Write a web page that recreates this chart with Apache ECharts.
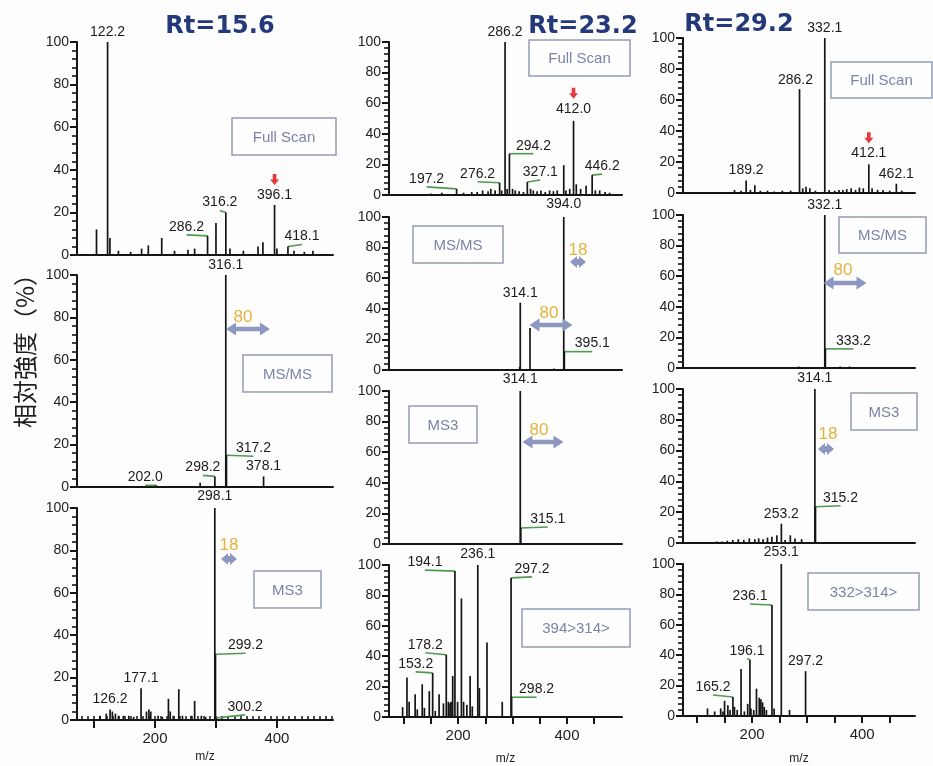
<!DOCTYPE html>
<html>
<head>
<meta charset="utf-8">
<script src="https://cdn.jsdelivr.net/npm/echarts@6/dist/echarts.min.js"></script>
<style>
  html, body { margin: 0; padding: 0; background: #fdfdfd; }
  #chart { width: 933px; height: 766px; }
</style>
</head>
<body>
<div id="chart"></div>
<script>
// ---------- spectra: [m/z, relative intensity (%)] ----------
// Rt = 15.6
const rt156Full = [[104,12],[122.2,100],[126,8],[140,2],[160,1.5],[178,3],[189,4.5],[211,8],[232,2],[254,2.5],[265,3],[286.2,9],[300,15],[316.2,20],[323,3],[345,2],[369,4],[377,6],[396.1,23.5],[400,3],[418.1,4],[428,2],[445,1.5],[459,2]];
const rt156FullLabels = [122.2, 286.2, 316.2, 396.1, 418.1];
const rt156MS2 = [[202.0,0.8],[274,2],[298.2,5],[316.1,100],[317.2,15],[378.1,5]];
const rt156MS2Labels = [316.1, 202.0, 298.2, 317.2, 378.1];
const rt156MS3 = [[110,2],[120,3],[126.2,5],[130,4],[135,3],[140,2],[148,2],[157,2],[165,1.5],[177.1,15],[186,4],[190,5],[193,4],[205,2],[212,1.5],[222,10],[225,4],[230,2],[239,14.5],[245,2],[259,2],[265,9],[276,2],[283,1.5],[298.1,100],[299.2,31],[300.2,1]];
const rt156MS3Labels = [298.1, 299.2, 300.2, 177.1, 126.2];

// Rt = 23.2
const rt232Full = [[150,1],[170,1.5],[197.2,4],[210,1.5],[225,2],[235,2],[245,3],[255,2.5],[260,4],[268,3],[276.2,8],[280,3],[286.2,100],[290,4],[294.2,27],[300,4],[305,3],[312,2.5],[320,2],[327.1,8.5],[333,4],[338,3],[345,2.5],[352,3],[360,2],[368,3],[375,2.5],[382,3],[394,19.5],[398,3],[405,4],[412.0,48.5],[417,7],[425,4],[435,6],[446.2,13],[452,3],[460,3],[470,2],[478,1.5]];
const rt232FullLabels = [286.2, 197.2, 276.2, 294.2, 327.1, 412.0, 446.2];
const rt232MS2 = [[313,2],[314.1,44],[332,27.5],[376,1],[394.0,100],[395.1,12]];
const rt232MS2Labels = [394.0, 314.1, 395.1];
const rt232MS3 = [[314.1,100],[315.1,10.5]];
const rt232MS3Labels = [314.1, 315.1];
const rt232MS4 = [[98,6.5],[106,26],[110,10],[121,15],[125,5],[134,21.5],[138,6],[147,17],[153.2,29],[158,4],[165,15],[173,9],[178.2,41],[182,10],[185,9],[187,10],[190,27],[194.1,96],[199,10],[206,78],[210,10],[216,8],[222,27],[226,7],[236.1,100],[239,19],[253,49],[281,10],[297.2,91.5],[298.2,13]];
const rt232MS4Labels = [236.1, 194.1, 297.2, 178.2, 153.2, 298.2];

// Rt = 29.2
const rt292Full = [[168,2],[180,1.5],[189.2,8],[197,2],[205,5],[215,1.5],[228,1.5],[240,1],[255,1.5],[270,1.5],[286.2,67],[292,3],[298,4],[305,3],[315,1.5],[332.1,100],[340,2],[350,1.5],[358,2],[365,2],[372,2.5],[380,3],[388,2],[395,3.5],[402,3],[412.1,18.5],[418,3],[428,2],[438,2],[450,1.5],[462.1,6],[472,1.5]];
const rt292FullLabels = [332.1, 286.2, 189.2, 412.1, 462.1];
const rt292MS2 = [[285,1],[332.1,100],[333.2,12.5],[360,1],[377,1]];
const rt292MS2Labels = [332.1, 333.2];
const rt292MS3 = [[136,1],[145,1],[155,1.5],[165,2],[175,2.5],[185,2],[195,3],[205,2.5],[212,3],[220,2.5],[228,3.5],[236,4],[245,5],[253.2,12.5],[260,2],[269.5,5],[278,3],[290,2.5],[314.1,100],[315.2,23.5]];
const rt292MS3Labels = [314.1, 315.2, 253.2];
const rt292MS4 = [[119,5],[132,3],[143,5],[147,3],[150,10],[156,7],[160,4],[165.2,12.5],[168,6],[173,4],[180,31],[186,3],[192,8],[196.1,37],[198,5],[203,4],[208,18],[213,12],[216,11],[219,9],[222,6],[226,4],[236.1,73],[240,5],[253.1,100],[268,4],[297.2,29.5]];
const rt292MS4Labels = [253.1, 236.1, 196.1, 297.2, 165.2];

// axis text
const yTicks = [0, 20, 40, 60, 80, 100];
const mzLabels = [200, 400];
const retentionTitles = ['Rt=15.6', 'Rt=23.2', 'Rt=29.2'];
const yTitle = '相対強度（%）';

// ---------- layout ----------
const INK = '#151515';
const LEADER = '#4f9a4f';
const BOX = '#949bb6';
const BOX_TEXT = '#7b83a6';
const ANNO = '#8d97c0';
const GOLD = '#e3b43c';
const ARROW_RED = '#e8383a';
const FONT = 'Liberation Sans, Arial, sans-serif';

const col = [
  { left: 77, width: 256, min: 72, max: 492, nameGap: 31 },
  { left: 389, width: 233, min: 73, max: 501, nameGap: 36 },
  { left: 683, width: 232, min: 74.5, max: 496, nameGap: 37 }
];

// label nudges: m/z -> [dx, dy, leader line]
const panels = [
  { c: 0, top: 42, h: 213, peaks: rt156Full, labels: rt156FullLabels, precursor: 396.1,
    nudge: { '286.2': [-21, -2, 1], '316.2': [-6, -3, 1], '418.1': [14, -3, 1] },
    box: ['Full Scan', 232, 118, 104, 37] },
  { c: 0, top: 275, h: 212, peaks: rt156MS2, labels: rt156MS2Labels,
    nudge: { '202.0': [-11, -1, 1], '298.2': [-12, -2, 1], '317.2': [27, 0, 1] },
    box: ['MS/MS', 243, 355, 89, 37] },
  { c: 0, top: 508, h: 212, peaks: rt156MS3, labels: rt156MS3Labels, bottom: true,
    nudge: { '298.1': [0, -5, 0], '299.2': [30, -2, 1], '300.2': [29, -4, 1] },
    box: ['MS3', 254, 571, 67, 37] },

  { c: 1, top: 42, h: 153, peaks: rt232Full, labels: rt232FullLabels, precursor: 412.0,
    nudge: { '197.2': [-30, -3, 1], '276.2': [-22, -2, 1], '294.2': [24, -1, 1], '327.1': [13, -3, 1], '412.0': [0, -5, 0], '446.2': [10, -2, 1] },
    box: ['Full Scan', 529, 40, 101, 36] },
  { c: 1, top: 217, h: 153, peaks: rt232MS2, labels: rt232MS2Labels,
    nudge: { '394.0': [0, -6, 0], '395.1': [28, -1, 1] },
    box: ['MS/MS', 413, 226, 90, 37] },
  { c: 1, top: 391, h: 153, peaks: rt232MS3, labels: rt232MS3Labels,
    nudge: { '314.1': [0, -5, 0], '315.1': [27, -2, 1] },
    box: ['MS3', 409, 406, 68, 37] },
  { c: 1, top: 565, h: 153, peaks: rt232MS4, labels: rt232MS4Labels, bottom: true,
    nudge: { '236.1': [0, -4, 0], '194.1': [-30, -2, 1], '297.2': [21, -2, 1], '178.2': [-21, -3, 1], '153.2': [-17, -2, 1], '298.2': [25, -1, 1] },
    box: ['394>314>', 522, 609, 108, 38] },

  { c: 2, top: 38, h: 155, peaks: rt292Full, labels: rt292FullLabels, precursor: 412.1,
    nudge: { '286.2': [-4, -2, 0], '412.1': [0, -4, 0] },
    box: ['Full Scan', 831, 62, 101, 36] },
  { c: 2, top: 215, h: 153, peaks: rt292MS2, labels: rt292MS2Labels,
    nudge: { '333.2': [28, -1, 1] },
    box: ['MS/MS', 839, 217, 87, 36] },
  { c: 2, top: 389, h: 154, peaks: rt292MS3, labels: rt292MS3Labels,
    nudge: { '314.1': [0, -4, 0], '315.2': [25, -2, 1] },
    box: ['MS3', 851, 393, 66, 37] },
  { c: 2, top: 564, h: 152, peaks: rt292MS4, labels: rt292MS4Labels, bottom: true,
    nudge: { '253.1': [0, -5, 0], '236.1': [-22, -2, 1], '196.1': [-3, -2, 1], '165.2': [-20, -3, 1] },
    box: ['332>314>', 808, 573, 111, 37] }
];

// ---------- renderers ----------
function renderStick(params, api) {
  const mz = api.value(0), y = api.value(1);
  const top = api.coord([mz, y]);
  const base = api.coord([mz, 0]);
  return {
    type: 'line',
    shape: { x1: top[0], y1: base[1], x2: top[0], y2: top[1] },
    style: { stroke: INK, lineWidth: 1.7 }
  };
}

function labelRenderer(p) {
  return function (params, api) {
    const mz = api.value(0), y = api.value(1);
    const text = mz.toFixed(1);
    const pt = api.coord([mz, y]);
    const n = p.nudge[text] || [0, -3, 0];
    const lx = pt[0] + n[0], ly = pt[1] + n[1];
    const children = [];
    if (n[2]) {
      children.push({
        type: 'polyline',
        shape: { points: [[pt[0], pt[1]], [lx, ly + 1]] },
        style: { stroke: LEADER, lineWidth: 1.6, fill: null }
      });
    }
    children.push({
      type: 'text', x: lx, y: ly,
      style: { text: text, fontSize: 14, fontFamily: FONT,
               fill: '#1c1c1c', align: 'center', verticalAlign: 'bottom' }
    });
    if (p.precursor === mz) {
      const t = ly - 17;
      children.push({
        type: 'polygon',
        shape: { points: [[lx - 1.8, t - 11], [lx + 1.8, t - 11], [lx + 1.8, t - 5.5], [lx + 4.5, t - 5.5], [lx, t], [lx - 4.5, t - 5.5], [lx - 1.8, t - 5.5]] },
        style: { fill: ARROW_RED }
      });
    }
    return { type: 'group', children: children };
  };
}

// ---------- build option ----------
const grid = [], xAxis = [], yAxis = [], series = [];

panels.forEach(function (p, i) {
  const c = col[p.c];
  grid.push({ left: c.left, top: p.top, width: c.width, height: p.h });

  const xa = {
    type: 'value', gridIndex: i, min: c.min, max: c.max,
    axisLine: { show: true, onZero: false, lineStyle: { color: INK, width: 2 } },
    axisTick: { show: false }, axisLabel: { show: false },
    splitLine: { show: false }
  };
  if (p.bottom) {
    const major = p.c === 0 ? [100, 200, 300, 400] : [100, 150, 200, 250, 300, 350, 400, 450];
    xa.axisTick = { show: true, customValues: major, length: p.c === 0 ? 8 : 7, lineStyle: { color: INK, width: 2 } };
    xa.axisLabel = { show: true, customValues: mzLabels, fontSize: 15, color: '#222', margin: 11, fontFamily: FONT };
    xa.name = 'm/z';
    xa.nameLocation = 'middle';
    xa.nameGap = c.nameGap;
    xa.nameTextStyle = { fontSize: 12, color: '#222', fontFamily: FONT };
  }
  xAxis.push(xa);

  yAxis.push({
    type: 'value', gridIndex: i,
    min: yTicks[0], max: yTicks[yTicks.length - 1], interval: yTicks[1] - yTicks[0],
    axisLine: { show: true, lineStyle: { color: INK, width: 2 } },
    axisTick: { show: true, length: 7, lineStyle: { color: INK, width: 2 } },
    minorTick: { show: true, splitNumber: 5, length: 5, lineStyle: { color: INK, width: 1.6 } },
    axisLabel: { fontSize: 14, color: '#222', margin: 8, fontFamily: FONT },
    splitLine: { show: false }, minorSplitLine: { show: false }
  });

  series.push({
    type: 'custom', xAxisIndex: i, yAxisIndex: i, data: p.peaks,
    renderItem: renderStick, silent: true, z: 3
  });
  const labelled = p.labels.map(function (mz) {
    const pk = p.peaks.find(function (d) { return d[0] === mz; });
    return [mz, pk[1]];
  });
  series.push({
    type: 'custom', xAxisIndex: i, yAxisIndex: i, data: labelled,
    renderItem: labelRenderer(p), silent: true, z: 2
  });
});

// extra fine m/z ticks for the left column
const fineTicks = [];
for (let v = 80; v <= 490; v += 10) fineTicks.push(v);
xAxis.push({
  type: 'value', gridIndex: 2, min: col[0].min, max: col[0].max,
  axisLine: { show: false }, axisLabel: { show: false }, splitLine: { show: false },
  axisTick: { show: true, customValues: fineTicks, length: 4, lineStyle: { color: INK, width: 1.5 } }
});

// ---------- decorations ----------
function dblArrow(cx, cy, w, head, hh, sh) {
  const a = w / 2;
  return [[cx - a, cy], [cx - a + head, cy - hh], [cx - a + head, cy - sh], [cx + a - head, cy - sh],
          [cx + a - head, cy - hh], [cx + a, cy], [cx + a - head, cy + hh], [cx + a - head, cy + sh],
          [cx - a + head, cy + sh], [cx - a + head, cy + hh]];
}
const losses = [
  // [text, text x, text y, arrow x, arrow y, arrow width]
  ['80', 243, 317, 248, 329, 44],
  ['18', 229, 545, 229, 559, 16],
  ['18', 578, 250, 578, 262, 16],
  ['80', 549, 313, 551, 325, 43],
  ['80', 539, 430, 543, 442, 41],
  ['80', 843, 270, 845, 283, 43],
  ['18', 828, 434, 826, 449, 16]
];

const graphic = [];
panels.forEach(function (p) {
  const b = p.box;
  graphic.push({ type: 'rect', shape: { x: b[1], y: b[2], width: b[3], height: b[4] },
                 style: { fill: 'rgba(255,255,255,0.6)', stroke: BOX, lineWidth: 1.5 }, z: 10 });
  graphic.push({ type: 'text', x: b[1] + b[3] / 2, y: b[2] + b[4] / 2 + 1,
                 style: { text: b[0], fontSize: 15, fontFamily: FONT, fill: BOX_TEXT, align: 'center', verticalAlign: 'middle' }, z: 11 });
});
losses.forEach(function (l) {
  const small = l[5] < 20;
  graphic.push({ type: 'polygon', z: 12,
    shape: { points: small ? dblArrow(l[3], l[4], l[5], 7, 6, 3) : dblArrow(l[3], l[4], l[5], 10, 6.5, 2.3) },
    style: { fill: ANNO } });
  graphic.push({ type: 'text', x: l[1], y: l[2], z: 13,
    style: { text: l[0], fontSize: 17, fontFamily: FONT, fill: GOLD, align: 'center', verticalAlign: 'middle' } });
});
[[220, 27], [583, 27], [739, 25]].forEach(function (pos, k) {
  graphic.push({ type: 'text', x: pos[0], y: pos[1], z: 14,
    style: { text: retentionTitles[k], fontSize: 24, fontWeight: 'bold', fontFamily: 'DejaVu Sans, sans-serif',
             fill: '#24397a', align: 'center', verticalAlign: 'middle' } });
});
graphic.push({ type: 'text', x: 25, y: 345, rotation: Math.PI / 2, z: 14,
  style: { text: yTitle, fontSize: 24, fontFamily: 'Noto Sans CJK JP, sans-serif', fill: '#1e1e1e',
           align: 'center', verticalAlign: 'middle' } });

const chart = echarts.init(document.getElementById('chart'), null, { renderer: 'canvas' });
chart.setOption({
  backgroundColor: '#fdfdfd',
  animation: false,
  grid: grid,
  xAxis: xAxis,
  yAxis: yAxis,
  series: series,
  graphic: graphic
});
</script>
</body>
</html>
